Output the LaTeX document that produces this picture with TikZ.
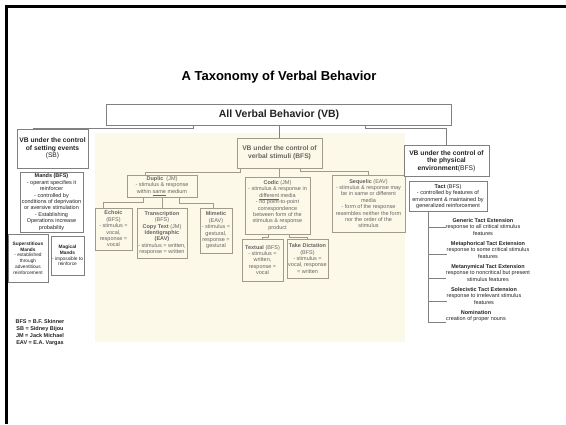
\documentclass[tikz,border=0pt]{standalone}
\usepackage{fontspec}
\setmainfont{Liberation Sans}
\usetikzlibrary{positioning}
\definecolor{slide_black}{RGB}{0,0,0}
\definecolor{cream_bg}{RGB}{253,249,232}
\definecolor{box_gray}{RGB}{128,128,128}
\definecolor{inner_gray}{RGB}{160,155,140}
\definecolor{text_dark}{RGB}{35,35,35}
\definecolor{text_soft}{RGB}{100,100,100}
\newcommand{\vbterm}[1]{\textbf{#1}}

\begin{document}
\begin{tikzpicture}[x=1pt, y=-1pt,
    vbbox/.style={draw=box_gray, line width=0.7pt, fill=white, align=center, inner sep=0pt,
                  text=text_dark, font=\fontsize{5.5}{6.4}\selectfont},
    headbox/.style={vbbox, font=\fontsize{6.7}{7.6}\selectfont},
    stimbox/.style={vbbox, draw=inner_gray, fill=none, text=text_soft},
    tinybox/.style={vbbox, font=\fontsize{4.8}{5.8}\selectfont},
    extension/.style={align=center, inner sep=0pt, text=text_dark, font=\fontsize{5.5}{6.2}\selectfont},
    link/.style={draw=box_gray, line width=0.6pt},
    stimlink/.style={draw=inner_gray, line width=0.6pt}]
    \useasboundingbox (0,0) rectangle (566,424);
    % Background
    \fill[cream_bg] (95,133) rectangle (405,342);
    \draw[slide_black, line width=3pt] (6.5,424) -- (6.5,6.5) -- (566,6.5);

    % Nodes
    \node[font=\fontsize{13}{15}\selectfont\bfseries] (title) at (279,77) {A Taxonomy of Verbal Behavior};
    \node[vbbox, minimum width=345pt, minimum height=21pt, font=\fontsize{10.5}{12}\selectfont\bfseries] (allvb) at (279,114.5) {All Verbal Behavior (VB)};

    \node[headbox, minimum width=71pt, minimum height=39pt] (setting) at (52.5,148.5) {
        \vbterm{VB under the control}\\
        \vbterm{of setting events}\\
        (SB)
    };
    \node[vbbox, minimum width=63pt, minimum height=60pt] (mands) at (51.5,202) {
        \vbterm{Mands (BFS)}\\
        - operant specifies it\\
        reinforcer\\
        - controlled by\\
        conditions of deprivation\\
        or aversive stimulation\\
        - Establishing\\
        Operations increase\\
        probability
    };
    \node[tinybox, minimum width=40pt, minimum height=48pt] (superstitious) at (28,258) {
        \vbterm{Superstitious}\\
        \vbterm{Mands}\\
        - established\\
        through\\
        adventitious\\
        reinforcement
    };
    \node[tinybox, minimum width=33pt, minimum height=39pt] (magical) at (67.5,255.5) {
        \vbterm{Magical}\\
        \vbterm{Mands}\\
        - impossible to\\
        reinforce
    };
    \node[align=center, inner sep=0pt, text=text_dark, font=\fontsize{5.5}{7}\selectfont\bfseries] (legend) at (40,332.5) {
        BFS = B.F. Skinner\\
        SB = Sidney Bijou\\
        JM = Jack Michael\\
        EAV = E.A. Vargas
    };

    \node[stimbox, font=\fontsize{6.7}{7.6}\selectfont, minimum width=85pt, minimum height=30pt] (verbal) at (279.5,153) {
        \vbterm{VB under the control of}\\
        \vbterm{verbal stimuli (BFS)}
    };
    \node[stimbox, minimum width=70pt, minimum height=22pt] (duplic) at (162,186) {
        \vbterm{Duplic} \ (JM)\\
        - stimulus \& response\\
        within \underline{same} medium
    };
    \node[stimbox, minimum width=37pt, minimum height=42pt] (echoic) at (113.5,229) {
        \vbterm{Echoic}\\
        (BFS)\\
        - stimulus =\\
        vocal,\\
        response =\\
        vocal
    };
    \node[stimbox, minimum width=50pt, minimum height=50pt] (transcription) at (162,233) {
        \vbterm{Transcription}\\
        (BFS)\\
        \vbterm{Copy Text} (JM)\\
        \vbterm{Identigraphic}\\
        \vbterm{(EAV)}\\
        - stimulus = written,\\
        response = written
    };
    \node[stimbox, minimum width=32pt, minimum height=45pt] (mimetic) at (216,230.5) {
        \vbterm{Mimetic}\\
        (EAV)\\
        - stimulus =\\
        gestural,\\
        response =\\
        gestural
    };
    \node[stimbox, minimum width=65pt, minimum height=57pt] (codic) at (277.5,205.5) {
        \vbterm{Codic} (JM)\\
        - stimulus \& response in\\
        \underline{different} media\\
        - no point-to-point\\
        correspondence\\
        between form of the\\
        stimulus \& response\\
        product
    };
    \node[stimbox, minimum width=41pt, minimum height=42pt] (textual) at (262.5,260) {
        \vbterm{Textual} (BFS)\\
        - stimulus =\\
        written,\\
        response =\\
        vocal
    };
    \node[stimbox, minimum width=41pt, minimum height=39pt] (dictation) at (307.5,258.5) {
        \vbterm{Take Dictation}\\
        (BFS)\\
        - stimulus =\\
        vocal, response\\
        = written
    };
    \node[stimbox, minimum width=73pt, minimum height=57pt] (sequelic) at (368.5,203.5) {
        \vbterm{Sequelic} (EAV)\\
        - stimulus \& response may\\
        be in same or different\\
        media\\
        - form of the response\\
        resembles neither the form\\
        nor the order of the\\
        stimulus
    };

    \node[headbox, minimum width=85pt, minimum height=31pt] (physical) at (446.5,161) {
        \vbterm{VB under the control of}\\
        \vbterm{the physical}\\
        \vbterm{environment}(BFS)
    };
    \node[vbbox, minimum width=78pt, minimum height=30pt] (tact) at (448,196.5) {
        \vbterm{Tact} (BFS)\\
        - controlled by features of\\
        environment \& maintained by\\
        generalized reinforcement
    };
    \node[extension] (generic) at (483,227) {
        \vbterm{Generic Tact Extension}\\
        response to all critical stimulus\\
        features
    };
    \node[extension] (metaphorical) at (488,250) {
        \vbterm{Metaphorical Tact Extension}\\
        response to some critical stimulus\\
        features
    };
    \node[extension] (metanymical) at (488,273) {
        \vbterm{Metanymical Tact Extension}\\
        response to noncritical but present\\
        stimulus features
    };
    \node[extension] (solecistic) at (484,296) {
        \vbterm{Solecistic Tact Extension}\\
        response to irrelevant stimulus\\
        features
    };
    \node[extension] (nomination) at (476,316) {
        \vbterm{Nomination}\\
        creation of proper nouns
    };

    % Lines
    \draw[link] ([xshift=-86pt]allvb.south) -- ++(0,3) -| ([xshift=-19.5pt]setting.north);
    \draw[link] (allvb.south -| verbal.north) -- (verbal.north);
    \draw[link] ([xshift=86pt]allvb.south) -- ++(0,3) -| (physical.north);

    \draw[stimlink] ([xshift=-39.5pt]verbal.south) -- ++(0,4) -| ([xshift=-17pt]duplic.north);
    \draw[stimlink] (verbal.south) -- (verbal.south |- codic.north);
    \draw[stimlink] ([xshift=20.5pt]verbal.south) -- ++(0,3) -| (sequelic.north);

    \draw[stimlink] ([xshift=-19pt]duplic.south) -- ++(0,5) -| ([xshift=-10pt]echoic.north);
    \draw[stimlink] (duplic.south) -- (transcription.north);
    \draw[stimlink] ([xshift=17pt]duplic.south) -- ++(0,5.5) -| ([xshift=-3pt]mimetic.north);

    \draw[stimlink] ([xshift=-9pt]codic.south) -- ++(0,2.5) -| (textual.north);
    \draw[stimlink] ([xshift=12pt]codic.south) -- ++(0,2.5) -| (dictation.north);

    % Tact extensions
    \coordinate (tactline) at ([xshift=-20pt]tact.south);
    \coordinate (metaphoricalend) at ([yshift=-4pt]metaphorical.west);
    \coordinate (metanymicalend) at ([yshift=-5pt]metanymical.west);
    \coordinate (solecisticend) at ([yshift=-5pt]solecistic.west);
    \draw[link] (tactline) -- (tactline |- nomination.south west) -- (nomination.south west);
    \draw[link] (tactline |- generic.west) -- (generic.west);
    \draw[link] (tactline |- metaphoricalend) -- (metaphoricalend);
    \draw[link] (tactline |- metanymicalend) -- (metanymicalend);
    \draw[link] (tactline |- solecisticend) -- (solecisticend);
\end{tikzpicture}
\end{document}
